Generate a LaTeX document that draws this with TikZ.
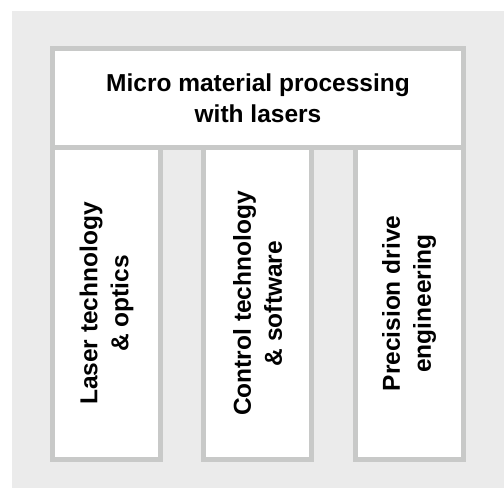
\documentclass[tikz,border=0pt]{standalone}
\usepackage{fontspec}
\setmainfont{Liberation Sans}
\definecolor{bggray}{HTML}{EBEBEB}
\definecolor{framegray}{HTML}{C8C9C8}

\begin{document}
\begin{tikzpicture}[x=1pt,y=-1pt,
                    box/.style={rectangle,draw=framegray,line width=5pt,fill=white,align=center,
                                inner sep=0pt,font=\fontsize{24.5}{31}\selectfont\bfseries},
                    pillar/.style={box,rotate=90,minimum width=312pt,minimum height=108pt}]
  \useasboundingbox (0,0) rectangle (504,488);
  \fill[bggray] (12,11) rectangle (504,488);

  \node[pillar] (laser) at (106.5,303.5) {Laser technology\\ \& optics};
    \node[pillar] (control) at (257.5,303.5) {Control technology\\ \& software};
  \node[pillar] (drive) at (409,303.5) {Precision drive\\ engineering};

  \node[box,minimum width=411pt,minimum height=99pt] (top) at (258,98) {Micro material processing\\ with lasers};
\end{tikzpicture}
\end{document}
